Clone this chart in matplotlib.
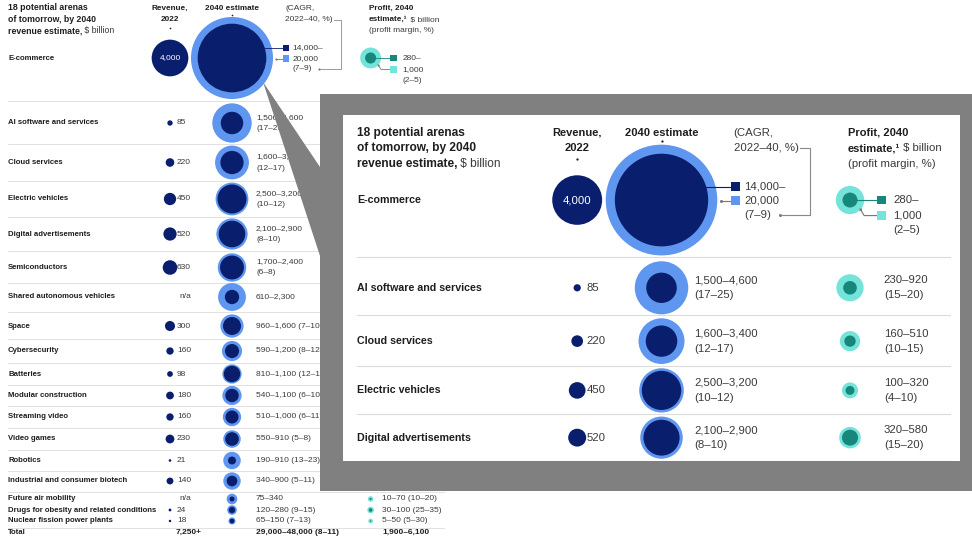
import matplotlib
matplotlib.use("Agg")
import matplotlib.pyplot as plt
from matplotlib.patches import Circle, Rectangle, Polygon

plt.rcParams['font.family'] = ['Liberation Sans', 'DejaVu Sans']

NAVY = "#0a1e6e"
SKY = "#5f96ef"
TEAL_DARK = "#16877a"
TEAL_LIGHT = "#74e3da"
INK = "#1e1e1e"
GREY_TXT = "#3a3a3a"
RULE = "#dcdcdc"
CALLOUT = "#808080"

# --- data, $ billion ---
arenas = ["E-commerce", "AI software and services", "Cloud services", "Electric vehicles",
          "Digital advertisements", "Semiconductors", "Shared autonomous vehicles", "Space",
          "Cybersecurity", "Batteries", "Modular construction", "Streaming video", "Video games",
          "Robotics", "Industrial and consumer biotech", "Future air mobility",
          "Drugs for obesity and related conditions", "Nuclear fission power plants"]
revenue_2022 = [4000, 85, 220, 450, 520, 630, None, 300, 160, 98, 180, 160, 230, 21, 140, None, 24, 18]
est_2040_low = [14000, 1500, 1600, 2500, 2100, 1700, 610, 960, 590, 810, 540, 510, 550, 190, 340, 75, 120, 65]
est_2040_high = [20000, 4600, 3400, 3200, 2900, 2400, 2300, 1600, 1200, 1100, 1100, 1000, 910, 910, 900, 340, 280, 150]
cagr = ["7–9", "17–25", "12–17", "10–12", "8–10", "6–8", None, "7–10", "8–12", "12–14", "6–10",
        "6–11", "5–8", "13–23", "5–11", None, "9–15", "7–13"]
profit_low = [280, 230, 160, 100, 320, None, None, None, None, None, None, None, None, None, None, 10, 30, 5]
profit_high = [1000, 920, 510, 320, 580, None, None, None, None, None, None, None, None, None, None, 70, 100, 50]
margin = ["2–5", "15–20", "10–15", "4–10", "15–20", None, None, None, None, None, None, None, None,
          None, None, "10–20", "25–35", "5–30"]
total_revenue = "7,250+"
total_2040 = "29,000–48,000 (8–11)"
total_profit = "1,900–6,100"

# --- table layout (pixel units of the full figure) ---
row_y = [58, 123, 162.5, 199, 234, 267.5, 297, 326, 351, 374, 395.5, 417, 439, 460.5, 481, 499, 510, 521]
total_y = 532
rules_y = [100.5, 143.5, 181, 216.5, 251, 283, 312, 339, 363, 385, 406, 428, 450, 471, 491.5, 527.5]
X_LABEL, X_REV, X_REV_TXT = 8, 170, 177
X_EST, X_EST_TXT = 232, 256
X_PROF, X_PROF_TXT, X_PROF_TXT_SMALL = 370.6, 395.5, 382
K_REV = 0.29    # circle radius per sqrt($bn), revenue columns
K_PROF = 0.33   # circle radius per sqrt($bn), profit column

# call-out box and the magnified window inside it
BOX = (320, 94, 972, 491)
WIN = (343, 115, 960, 461)
ZOOM = 1.36


def fmt(v):
    return f"{v:,}"


def draw_table(ax, s=1.0, y_max=None, covered=None):
    fs_title, fs_head, fs_row, fs_val = 6.3 * s, 5.9 * s, 5.6 * s, 6.0 * s

    def hidden(x, y):
        if y_max is not None and y > y_max:
            return True
        if covered is not None:
            cx0, cy0, cx1, cy1 = covered
            return cx0 <= x <= cx1 and cy0 <= y <= cy1
        return False

    def txt(x, y, t, size=fs_val, weight='normal', color=GREY_TXT, ha='left', va='center'):
        if hidden(x, y):
            return None
        return ax.text(x, y, t, fontsize=size, fontweight=weight, color=color,
                       ha=ha, va=va, clip_on=True)

    def after(prev, t, size, weight='normal', color=GREY_TXT):
        if prev is None:
            return
        ax.annotate(t, xy=(1, 0), xycoords=prev, ha='left', va='bottom', fontsize=size,
                    fontweight=weight, color=color, clip_on=True)

    def dot(x, y, color, ms=1.6):
        ax.plot([x], [y], 'o', color=color, ms=ms * s, mew=0)

    # header
    txt(X_LABEL, 8, "18 potential arenas", fs_title, 'bold', INK)
    txt(X_LABEL, 19.5, "of tomorrow, by 2040", fs_title, 'bold', INK)
    t = txt(X_LABEL, 31, "revenue estimate,", fs_title, 'bold', INK)
    after(t, " $ billion", fs_title)

    txt(X_REV, 8, "Revenue,", fs_head, 'bold', INK, ha='center')
    txt(X_REV, 19.5, "2022", fs_head, 'bold', INK, ha='center')
    dot(X_REV, 27.5, INK, 1.2)
    txt(X_EST, 8, "2040 estimate", fs_head, 'bold', INK, ha='center')
    dot(X_EST, 14.5, INK, 1.2)
    txt(285, 8, "(CAGR,", fs_val)
    txt(285, 19.5, "2022–40, %)", fs_val)
    txt(369, 8, "Profit, 2040", fs_head, 'bold', INK)
    t = txt(369, 19.5, "estimate,¹", fs_head, 'bold', INK)
    after(t, " $ billion", fs_val)
    txt(369, 31, "(profit margin, %)", fs_val)

    # row rules
    for yy in rules_y:
        if y_max is None or yy < y_max:
            ax.plot([X_LABEL, 444], [yy, yy], color=RULE, lw=0.6 * s, zorder=1)

    for i, name in enumerate(arenas):
        y = row_y[i]
        if y_max is not None and y - 20 > y_max:
            continue
        compact = i >= 15
        txt(X_LABEL, y, name, fs_row, 'bold', INK)

        rev = revenue_2022[i]
        if rev is None:
            txt(X_REV_TXT + 2, y, "n/a")
        else:
            r = K_REV * rev ** 0.5
            ax.add_patch(Circle((X_REV, y), r, facecolor=NAVY, lw=0, zorder=3))
            if r > 12:
                txt(X_REV, y, fmt(rev), color='white', ha='center')
            else:
                txt(X_REV_TXT, y, fmt(rev))

        lo, hi = est_2040_low[i], est_2040_high[i]
        ax.add_patch(Circle((X_EST, y), K_REV * hi ** 0.5, facecolor=SKY, lw=0, zorder=3))
        ax.add_patch(Circle((X_EST, y), K_REV * lo ** 0.5, facecolor=NAVY, lw=0, zorder=4))

        if i == 0:
            # legend for the nested 2040 circles
            ax.plot([265, 283], [y - 10, y - 10], color=NAVY, lw=0.6 * s, zorder=5)
            dot(265, y - 10, NAVY)
            ax.plot([276, 283], [y + 0.5, y + 0.5], color='#777777', lw=0.6 * s, zorder=5)
            dot(276, y + 0.5, '#777777')
            ax.add_patch(Rectangle((283, y - 13.2), 6.4, 6.4, facecolor=NAVY, lw=0, zorder=5))
            ax.add_patch(Rectangle((283, y - 2.7), 6.4, 6.4, facecolor=SKY, lw=0, zorder=5))
            txt(292.6, y - 10, fmt(lo) + "–")
            txt(292.6, y + 0.5, fmt(hi))
            txt(292.6, y + 11, f"({cagr[i]})")
            ax.plot([334, 341, 341, 320], [19.5, 19.5, y + 11, y + 11],
                    color='#8a8a8a', lw=0.6 * s, zorder=5)
            dot(319, y + 11, '#777777')
        elif cagr[i] is None:
            txt(X_EST_TXT, y, f"{fmt(lo)}–{fmt(hi)}")
        elif i <= 5:
            txt(X_EST_TXT, y - 5.5, f"{fmt(lo)}–{fmt(hi)}")
            txt(X_EST_TXT, y + 5.5, f"({cagr[i]})")
        else:
            txt(X_EST_TXT, y, f"{fmt(lo)}–{fmt(hi)} ({cagr[i]})")

        plo, phi = profit_low[i], profit_high[i]
        if plo is None:
            continue
        ax.add_patch(Circle((X_PROF, y), K_PROF * phi ** 0.5, facecolor=TEAL_LIGHT, lw=0, zorder=3))
        ax.add_patch(Circle((X_PROF, y), K_PROF * plo ** 0.5, facecolor=TEAL_DARK, lw=0, zorder=4))
        if i == 0:
            ax.plot([X_PROF + 4, 390], [y, y], color=TEAL_DARK, lw=0.6 * s, zorder=5)
            ax.plot([378, 381, 390], [y + 6.5, y + 11.5, y + 11.5], color='#777777',
                    lw=0.6 * s, zorder=5)
            dot(378, y + 6.5, '#777777')
            ax.add_patch(Rectangle((390.3, y - 3.2), 6.4, 6.4, facecolor=TEAL_DARK, lw=0, zorder=5))
            ax.add_patch(Rectangle((390.3, y + 8.3), 6.4, 6.4, facecolor=TEAL_LIGHT, lw=0, zorder=5))
            txt(402.6, y, fmt(plo) + "–")
            txt(402.6, y + 11.5, fmt(phi))
            txt(402.6, y + 22, f"({margin[i]})")
        elif compact:
            txt(X_PROF_TXT_SMALL, y, f"{fmt(plo)}–{fmt(phi)} ({margin[i]})")
        else:
            txt(X_PROF_TXT, y - 5.5, f"{fmt(plo)}–{fmt(phi)}")
            txt(X_PROF_TXT, y + 5.5, f"({margin[i]})")

    if y_max is None or total_y < y_max:
        txt(X_LABEL, total_y, "Total", fs_row, 'bold', INK)
        txt(X_REV_TXT - 1, total_y, total_revenue, fs_val, 'bold', INK)
        txt(X_EST_TXT, total_y, total_2040, fs_val, 'bold', INK)
        txt(X_PROF_TXT_SMALL, total_y, total_profit, fs_val, 'bold', INK)


W, H = 972, 541
fig = plt.figure(figsize=(W / 100, H / 100), dpi=100)
fig.patch.set_facecolor('white')

ax = fig.add_axes([0, 0, 1, 1])
ax.set_xlim(0, W)
ax.set_ylim(H, 0)
ax.axis('off')
draw_table(ax, covered=BOX)

# grey call-out box with its pointer
ax.add_patch(Polygon([(263, 82), (322, 170), (322, 262)], closed=True,
                     facecolor=CALLOUT, lw=0, zorder=10))
ax.add_patch(Rectangle((BOX[0], BOX[1]), BOX[2] - BOX[0], BOX[3] - BOX[1],
                       facecolor=CALLOUT, lw=0, zorder=10))

# magnified copy of the top of the table
x0, y0, x1, y1 = WIN
ax_in = fig.add_axes([x0 / W, 1 - y1 / H, (x1 - x0) / W, (y1 - y0) / H])
ax_in.set_facecolor('white')
ax_in.set_xticks([])
ax_in.set_yticks([])
for sp in ax_in.spines.values():
    sp.set_visible(False)
left, top = -2.2, -5
right = left + (x1 - x0) / ZOOM
bottom = top + (y1 - y0) / 1.35
ax_in.set_xlim(left, right)
ax_in.set_ylim(bottom, top)
draw_table(ax_in, ZOOM, y_max=bottom)

fig.savefig("out.png", dpi=100)
